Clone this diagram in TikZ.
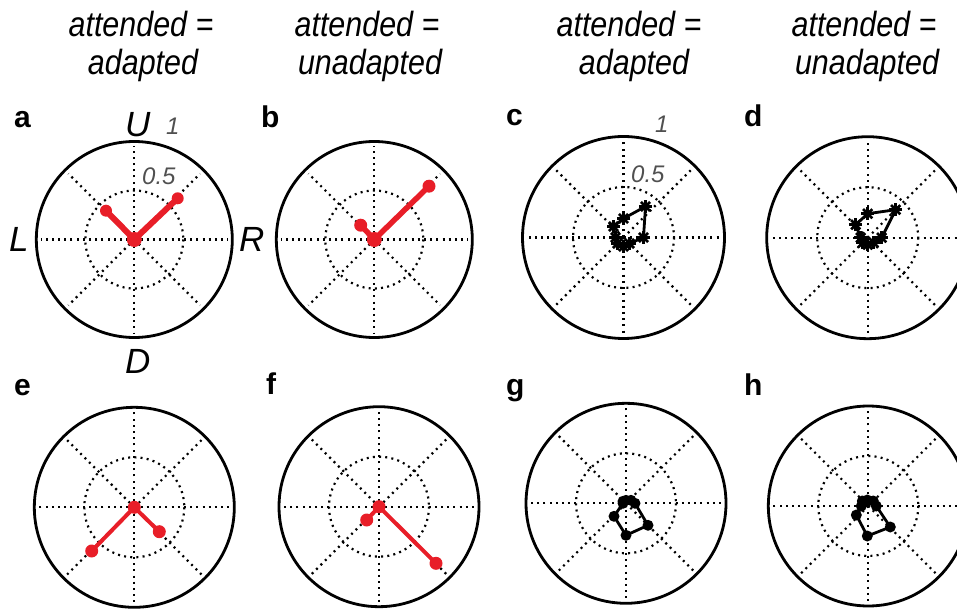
\documentclass[tikz,border=0pt]{standalone}
\usepackage{fontspec}
\setmainfont{Liberation Sans}
\newfontfamily\hdrfont[FakeStretch=0.87]{Liberation Sans}
\definecolor{plotred}{RGB}{232,30,40}
\definecolor{tickgray}{RGB}{80,80,80}
\newcommand\polargrid[3]{%
  \begin{scope}[shift={(#1,#2)}]
    \draw[gridline] (0,0) circle[radius=#3/2];
    \foreach \a in {0,45,...,315}{\draw[gridline] (0,0) -- (\a:{0.95*#3});}
    \draw[rim] (0,0) circle[radius=#3];
  \end{scope}}
\tikzset{
  pics/ast/.style={code={
    \foreach \a in {0,45,90,135}{\draw[line width=2.6pt] (\a:6.5) -- (\a+180:6.5);}
    \fill (0,0) circle[radius=4];}},
}
\begin{document}
\begin{tikzpicture}[x=1pt,y=-1pt,
  rim/.style={line width=2.8pt, draw=black},
  gridline/.style={line width=2.2pt, dash pattern=on 2pt off 4.2pt, draw=black},
  hdr/.style={font=\hdrfont\fontsize{35}{40}\selectfont\itshape, anchor=base, inner sep=0pt},
  plabel/.style={font=\fontsize{30}{32}\selectfont\bfseries, anchor=base west, inner sep=0pt},
  dirlabel/.style={font=\fontsize{35}{38}\selectfont\itshape, anchor=base west, inner sep=0pt},
  ticklabel/.style={font=\fontsize{24}{28}\selectfont\itshape, text=tickgray, anchor=base west, inner sep=0pt},
  redl/.style={draw=plotred, line cap=round, line join=round},
  blackpoly/.style={draw=black, line width=2.8pt, line join=round},
]
\useasboundingbox (0,0) rectangle (957,609);

% headers
\node[hdr] (h1a) at (141,37) {attended =};
\node[hdr] (h1b) at (143,75) {adapted};
\node[hdr] (h2a) at (367,37) {attended =};
\node[hdr] (h2b) at (370,75) {unadapted};
\node[hdr] (h3a) at (629,37) {attended =};
\node[hdr] (h3b) at (634,75) {adapted};
\node[hdr] (h4a) at (864,37) {attended =};
\node[hdr] (h4b) at (867,75) {unadapted};

% panel letters
\node[plabel] (la) at (14,128) {a};
\node[plabel] (lb) at (261,128) {b};
\node[plabel] (lc) at (506,126) {c};
\node[plabel] (ld) at (744,127) {d};
\node[plabel] (le) at (14,395) {e};
\node[plabel] (lf) at (266,394) {f};
\node[plabel] (lg) at (506,395) {g};
\node[plabel] (lh) at (744,395) {h};

% grids
\polargrid{134.3}{239.5}{98}
\polargrid{374.3}{239.5}{98}
\polargrid{623.5}{237.5}{101}
\polargrid{867.7}{237.7}{101}
\polargrid{134.3}{507.3}{100}
\polargrid{379}{506.7}{100}
\polargrid{626}{503.3}{100}
\polargrid{868.3}{506}{100}

% direction and tick labels
\node[dirlabel] (tU) at (125,137) {U};
\node[dirlabel] (tL) at (9,252) {L};
\node[dirlabel] (tR) at (239,252) {R};
\node[dirlabel] (tD) at (125,373) {D};
\node[ticklabel] (ta1) at (166,135) {1};
\node[ticklabel] (ta5) at (142,185) {0.5};
\node[ticklabel] (tc1) at (655,133) {1};
\node[ticklabel] (tc5) at (631,183) {0.5};

% a
\begin{scope}[shift={(134.3,239.5)}]
  \draw[redl, line width=6pt] (-28.3,-28.8) -- (0,0) -- (43.4,-41.2);
  \fill[plotred] (0,0) circle[radius=7.5] (-28.3,-28.8) circle[radius=6] (43.4,-41.2) circle[radius=6];
\end{scope}
% b
\begin{scope}[shift={(374.3,239.5)}]
  \draw[redl, line width=5.5pt] (-13.6,-14.3) -- (0,0) -- (54.7,-53.3);
  \fill[plotred] (0,0) circle[radius=7.5] (-13.6,-14.3) circle[radius=6.5] (54.7,-53.3) circle[radius=6.5];
\end{scope}
% e
\begin{scope}[shift={(134.3,507.3)}]
  \draw[redl, line width=4pt] (25,24.4) -- (0,0) -- (-42.6,43.7);
  \fill[plotred] (0,0) circle[radius=6.5] (25,24.4) circle[radius=6.5] (-42.6,43.7) circle[radius=6.5];
\end{scope}
% f
\begin{scope}[shift={(379,506.7)}]
  \draw[redl, line width=4pt] (-12.3,13.3) -- (0,0) -- (57,56.6);
  \fill[plotred] (0,0) circle[radius=6.5] (-12.3,13.3) circle[radius=6.5] (57,56.6) circle[radius=6.5];
\end{scope}

% c
\begin{scope}[shift={(623.5,237.5)}]
  \draw[blackpoly] (20,0) -- (22,-31) -- (0,-19) -- (-10,-11) -- (-8,0) -- (-6,6) -- (0,9) -- (6,6) -- cycle;
  \foreach \p in {(20,0),(22,-31),(0,-19),(-10,-11),(-8,0),(-6,6),(0,9),(6,6)}
    {\pic at \p {ast};}
\end{scope}
% d
\begin{scope}[shift={(867.7,237.7)}]
  \draw[blackpoly] (14,0) -- (28,-28) -- (0,-24) -- (-12,-13) -- (-7,0) -- (-5,5) -- (0,7) -- (6,5) -- cycle;
  \foreach \p in {(14,0),(28,-28),(0,-24),(-12,-13),(-7,0),(-5,5),(0,7),(6,5)}
    {\pic at \p {ast};}
\end{scope}
% g
\begin{scope}[shift={(626,503.3)}]
  \draw[blackpoly] (9,0) -- (5,-3) -- (0,-3) -- (-3,-2) -- (-3,0) -- (-12,13) -- (0,32) -- (22,22) -- cycle;
  \fill (9,0) circle[radius=5.5] (5,-3) circle[radius=5.5] (0,-3) circle[radius=5.5] (-3,-2) circle[radius=5.5]
        (-3,0) circle[radius=5.5] (-12,13) circle[radius=5.5] (0,32) circle[radius=5.5] (22,22) circle[radius=5.5];
\end{scope}
% h
\begin{scope}[shift={(868.3,506)}]
  \draw[blackpoly] (8,0) -- (5,-5) -- (-1,-6) -- (-6,-5) -- (-7,0) -- (-12,9) -- (-1,30) -- (22,21) -- cycle;
  \fill (8,0) circle[radius=5.5] (5,-5) circle[radius=5.5] (-1,-6) circle[radius=5.5] (-6,-5) circle[radius=5.5]
        (-7,0) circle[radius=5.5] (-12,9) circle[radius=5.5] (-1,30) circle[radius=5.5] (22,21) circle[radius=5.5];
\end{scope}
\end{tikzpicture}
\end{document}
